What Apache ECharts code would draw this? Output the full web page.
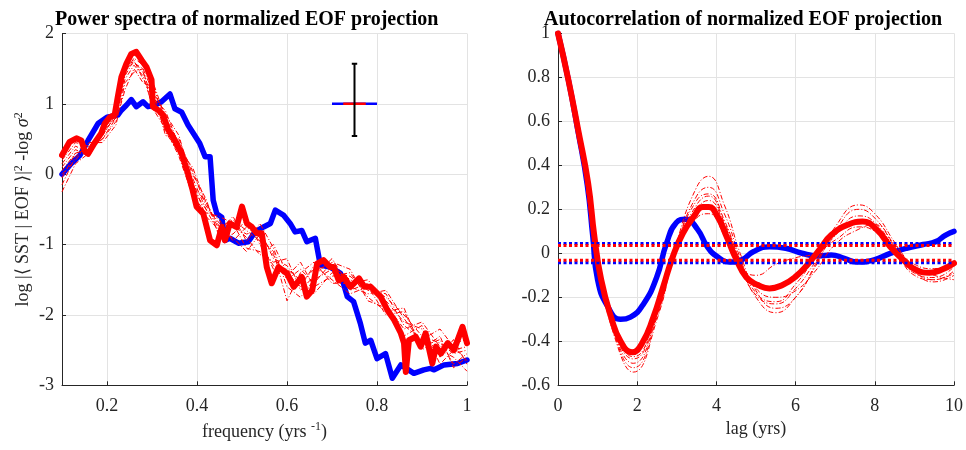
<!DOCTYPE html>
<html>
<head>
<meta charset="utf-8">
<script src="https://cdn.jsdelivr.net/npm/echarts@6/dist/echarts.min.js"></script>
<style>
  html, body { margin: 0; padding: 0; background: #fff; }
  #main { width: 966px; height: 450px; }
</style>
</head>
<body>
<div id="main"></div>
<script>
// power spectra (left panel)
const psFreqObs = [0.1,0.12,0.14,0.158,0.18,0.2,0.224,0.232,0.243,0.254,0.265,0.28,0.291,0.306,0.321,0.34,0.351,0.366,0.38,0.395,0.406,0.418,0.429,0.436,0.444,0.455,0.462,0.473,0.492,0.514,0.529,0.548,0.563,0.574,0.592,0.607,0.618,0.633,0.644,0.663,0.674,0.696,0.719,0.734,0.748,0.763,0.774,0.786,0.80,0.819,0.834,0.853,0.882,0.904,0.919,0.927,0.949,0.979,1.0];
const psObs = [0.0,0.15,0.27,0.48,0.72,0.81,0.84,0.91,0.98,1.06,0.96,1.03,0.96,0.98,1.03,1.14,0.93,0.88,0.70,0.55,0.44,0.25,0.25,-0.37,-0.56,-0.61,-0.94,-0.91,-0.98,-0.96,-0.82,-0.75,-0.70,-0.51,-0.58,-0.70,-0.82,-0.80,-0.96,-0.91,-1.29,-1.32,-1.41,-1.74,-1.81,-2.12,-2.40,-2.36,-2.62,-2.55,-2.90,-2.71,-2.83,-2.78,-2.76,-2.78,-2.71,-2.69,-2.64];

const psFreqMean = [0.1,0.117,0.132,0.143,0.15,0.158,0.172,0.187,0.195,0.206,0.217,0.224,0.232,0.243,0.254,0.265,0.277,0.288,0.299,0.302,0.314,0.325,0.336,0.351,0.366,0.38,0.39,0.399,0.414,0.429,0.444,0.455,0.462,0.473,0.488,0.50,0.511,0.522,0.533,0.544,0.555,0.566,0.581,0.60,0.615,0.633,0.644,0.656,0.667,0.681,0.696,0.704,0.715,0.726,0.741,0.76,0.772,0.786,0.808,0.823,0.838,0.853,0.86,0.864,0.871,0.886,0.897,0.908,0.923,0.931,0.942,0.957,0.971,0.99,1.0];
const psMean = [0.27,0.46,0.51,0.48,0.34,0.29,0.44,0.58,0.72,0.81,0.84,1.10,1.38,1.57,1.71,1.74,1.62,1.52,1.34,0.96,0.91,0.84,0.63,0.48,0.29,0.01,-0.22,-0.46,-0.56,-0.94,-1.01,-0.75,-0.94,-0.70,-0.75,-0.46,-0.70,-0.75,-0.84,-0.84,-1.32,-1.55,-1.32,-1.41,-1.60,-1.46,-1.74,-1.65,-1.27,-1.22,-1.32,-1.32,-1.51,-1.46,-1.60,-1.48,-1.60,-1.60,-1.74,-1.93,-2.07,-2.26,-2.40,-2.81,-2.36,-2.31,-2.45,-2.26,-2.69,-2.45,-2.55,-2.40,-2.50,-2.17,-2.40];

const psFreqEns = [0.1,0.13,0.16,0.19,0.22,0.24,0.26,0.28,0.3,0.33,0.36,0.39,0.42,0.45,0.48,0.51,0.54,0.57,0.6,0.63,0.66,0.7,0.74,0.78,0.82,0.86,0.9,0.94,0.97,1.0];
const psEns1 = [-0.25,0.15,0.3,0.55,0.85,1.45,1.65,1.55,1.35,0.8,0.45,0.05,-0.45,-0.7,-0.75,-0.85,-0.8,-1.2,-1.3,-1.55,-1.35,-1.3,-1.5,-1.6,-1.75,-2.0,-2.3,-2.4,-2.55,-2.5];
const psEns2 = [0.1,0.35,0.25,0.6,0.8,1.35,1.55,1.4,1.0,0.7,0.3,-0.1,-0.6,-0.8,-0.6,-0.95,-0.7,-1.05,-1.6,-1.75,-1.5,-1.35,-1.65,-1.55,-1.8,-2.1,-2.2,-2.6,-2.35,-2.7];
const psEns3 = [0.2,0.45,0.4,0.5,0.75,1.2,1.5,1.3,1.25,0.55,0.5,0.0,-0.35,-0.9,-0.85,-0.65,-1.0,-1.3,-1.45,-1.25,-1.6,-1.45,-1.4,-1.75,-1.95,-1.9,-2.5,-2.3,-2.75,-2.6];
const psEns4 = [-0.05,0.3,0.35,0.65,0.82,1.55,1.6,1.45,1.1,0.9,0.4,-0.2,-0.5,-0.65,-0.95,-0.75,-0.9,-1.1,-1.8,-1.4,-1.25,-1.55,-1.55,-1.5,-1.85,-2.2,-2.1,-2.45,-2.4,-2.35];
const psEns5 = [0.0,0.2,0.45,0.45,0.7,1.3,1.45,1.5,0.95,0.65,0.25,-0.3,-0.55,-0.6,-0.7,-1.05,-1.1,-1.25,-1.2,-1.65,-1.45,-1.2,-1.6,-1.7,-1.65,-2.05,-2.4,-2.5,-2.6,-2.8];
const psEns6 = [0.15,0.4,0.3,0.55,0.85,1.6,1.7,1.6,1.3,0.75,0.35,0.1,-0.4,-0.75,-0.65,-0.8,-0.95,-1.35,-1.35,-1.5,-1.7,-1.4,-1.45,-1.65,-1.7,-2.15,-2.35,-2.2,-2.45,-2.65];
const psEns7 = [-0.15,0.25,0.4,0.6,0.9,1.4,1.62,1.35,1.15,0.6,0.3,-0.05,-0.5,-0.85,-0.9,-1.1,-0.85,-1.15,-1.5,-1.35,-1.55,-1.25,-1.35,-1.8,-1.9,-2.3,-2.15,-2.7,-2.5,-2.45];
const psEns8 = [0.05,0.3,0.35,0.5,0.8,1.5,1.58,1.5,1.2,0.85,0.55,-0.15,-0.4,-0.8,-0.7,-0.9,-1.15,-1.0,-1.4,-1.6,-1.3,-1.5,-1.7,-1.6,-2.0,-1.95,-2.45,-2.35,-2.7,-2.55];

const psTicks = [0.2, 0.4, 0.6, 0.8, 1];

// error bar + spread marker
const errFreq = 0.75, errLow = 0.544, errHigh = 1.57, errCap = 0.006;
const spreadLevel = 1;
const spreadObs = [0.70, 0.80];
const spreadModel = [0.725, 0.775];

// autocorrelation (right panel)
const acLagObs = [0,0.26,0.5,0.74,0.88,1.0,1.25,1.58,1.83,2.16,2.49,2.74,2.99,3.23,3.52,3.77,4.02,4.35,4.64,4.93,5.34,5.75,6.16,6.57,6.9,7.23,7.56,7.98,8.39,8.8,9.22,9.54,9.79,10];
const acObs = [1.0,0.79,0.56,0.31,0.075,-0.12,-0.24,-0.30,-0.29,-0.23,-0.11,0.045,0.14,0.155,0.11,0.03,-0.015,-0.04,-0.03,0.007,0.03,0.023,0.0,-0.012,-0.008,-0.023,-0.04,-0.03,0.0,0.023,0.04,0.053,0.083,0.10];

const acLagMean = [0,0.26,0.51,0.76,0.92,1.09,1.34,1.58,1.87,2.12,2.41,2.66,2.90,3.15,3.44,3.65,3.81,4.02,4.26,4.51,4.76,5.05,5.34,5.67,6.0,6.33,6.62,6.9,7.32,7.69,8.06,8.39,8.72,9.05,9.38,9.67,10];
const acMean = [1.0,0.79,0.56,0.32,0.075,-0.12,-0.29,-0.40,-0.45,-0.41,-0.29,-0.15,-0.015,0.09,0.17,0.21,0.21,0.17,0.075,-0.03,-0.11,-0.144,-0.16,-0.144,-0.106,-0.045,0.02,0.083,0.13,0.144,0.106,0.03,-0.03,-0.076,-0.088,-0.076,-0.045];

const acLagEns = [0,0.5,1,1.5,1.9,2.5,3,3.5,3.8,4.2,4.6,5,5.5,6,6.5,7,7.6,8,8.5,9,9.5,10];
const acEns1 = [1,0.56,-0.04,-0.42,-0.54,-0.30,0.05,0.30,0.35,0.22,0.00,-0.17,-0.25,-0.20,-0.05,0.12,0.22,0.18,0.05,-0.08,-0.13,-0.10];
const acEns2 = [1,0.57,-0.03,-0.40,-0.50,-0.28,0.04,0.24,0.27,0.15,-0.04,-0.20,-0.27,-0.20,-0.06,0.10,0.20,0.16,0.03,-0.10,-0.12,-0.08];
const acEns3 = [1,0.57,-0.02,-0.38,-0.47,-0.26,0.03,0.20,0.24,0.13,-0.05,-0.19,-0.23,-0.16,-0.04,0.08,0.17,0.14,0.02,-0.09,-0.11,-0.06];
const acEns4 = [1,0.58,-0.01,-0.36,-0.44,-0.24,0.02,0.16,0.18,0.08,-0.06,-0.10,-0.05,-0.02,0.00,0.06,0.12,0.10,0.02,-0.05,-0.07,-0.04];
const acEns5 = [1,0.57,-0.03,-0.41,-0.52,-0.29,0.04,0.26,0.30,0.18,-0.02,-0.18,-0.22,-0.14,-0.02,0.09,0.14,0.12,0.03,-0.08,-0.12,-0.09];
const acEns6 = [1,0.57,-0.02,-0.39,-0.48,-0.27,0.03,0.22,0.26,0.14,-0.03,-0.16,-0.20,-0.17,-0.08,0.04,0.11,0.13,0.04,-0.06,-0.10,-0.12];

// significance levels (dotted)
const sigObs = [0.045, -0.043];
const sigModel = [0.035, -0.032];
const lagRange = [0, 10];

const FONT = 'Liberation Serif';
const INK = '#262626';
const GRIDC = '#e3e3e3';

function zip(xs, ys) {
  return xs.map((x, i) => [x, ys[i]]);
}

function thin(xi, yi, xs, ys, smooth) {
  return {
    type: 'line', xAxisIndex: xi, yAxisIndex: yi, data: zip(xs, ys),
    showSymbol: false, smooth: smooth, silent: true,
    lineStyle: { color: '#ff0000', width: 1, type: [5, 2, 1, 2] }
  };
}

function thick(xi, yi, xs, ys, color, w, smooth) {
  return {
    type: 'line', xAxisIndex: xi, yAxisIndex: yi, data: zip(xs, ys),
    showSymbol: false, smooth: smooth, silent: true,
    lineStyle: { color: color, width: w, cap: 'round', join: 'round' }
  };
}

function seg(xi, yi, pts, color, w, dash) {
  return {
    type: 'line', xAxisIndex: xi, yAxisIndex: yi, data: pts,
    showSymbol: false, silent: true,
    lineStyle: { color: color, width: w, type: dash || 'solid' }
  };
}

const labelStyle = { fontFamily: FONT, fontSize: 18, color: INK };
const nameStyle = {
  fontFamily: FONT, fontSize: 18, color: INK,
  rich: {
    sup: { fontFamily: FONT, fontSize: 12, color: INK, padding: [0, 0, 9, 0] },
    it: { fontFamily: FONT, fontSize: 18, color: INK, fontStyle: 'italic' }
  }
};

let chart = echarts.init(document.getElementById('main'));

let series = [];
series.push(thick(0, 0, psFreqObs, psObs, '#0000ff', 5.5, false));
[psEns1, psEns2, psEns3, psEns4, psEns5, psEns6, psEns7, psEns8].forEach(e => series.push(thin(0, 0, psFreqEns, e, false)));
series.push(thick(0, 0, psFreqMean, psMean, '#ff0000', 6, false));
series.push(seg(0, 0, [[spreadObs[0], spreadLevel], [spreadObs[1], spreadLevel]], '#0000ff', 2.5));
series.push(seg(0, 0, [[spreadModel[0], spreadLevel], [spreadModel[1], spreadLevel]], '#ff0000', 2.5));
series.push(seg(0, 0, [[errFreq, errLow], [errFreq, errHigh]], '#000000', 2));
series.push(seg(0, 0, [[errFreq - errCap, errLow], [errFreq + errCap, errLow]], '#000000', 2));
series.push(seg(0, 0, [[errFreq - errCap, errHigh], [errFreq + errCap, errHigh]], '#000000', 2));

series.push(thick(1, 1, acLagObs, acObs, '#0000ff', 5.5, true));
[acEns1, acEns2, acEns3, acEns4, acEns5, acEns6].forEach(e => series.push(thin(1, 1, acLagEns, e, true)));
series.push(thick(1, 1, acLagMean, acMean, '#ff0000', 6, true));
sigObs.forEach(v => series.push(seg(1, 1, [[lagRange[0], v], [lagRange[1], v]], '#0000ff', 3, [3, 2.5])));
sigModel.forEach(v => series.push(seg(1, 1, [[lagRange[0], v], [lagRange[1], v]], '#ff0000', 3, [3, 2.5])));

chart.setOption({
  animation: false,
  backgroundColor: '#fff',
  title: [
    { text: 'Power spectra of normalized EOF projection', left: 50, top: 5,
      textStyle: { fontFamily: FONT, fontSize: 20, fontWeight: 'bold', color: '#000' } },
    { text: 'Autocorrelation of normalized EOF projection', left: 539, top: 5,
      textStyle: { fontFamily: FONT, fontSize: 20, fontWeight: 'bold', color: '#000' } }
  ],
  grid: [
    { left: 62, right: 499, top: 33.5, bottom: 64.7 },
    { left: 558, right: 4, top: 33.3, bottom: 64.7 }
  ],
  xAxis: [
    {
      type: 'value', gridIndex: 0, min: 0.1, max: 1,
      name: 'frequency (yrs {sup|-1})', nameLocation: 'middle', nameGap: 36,
      nameTextStyle: nameStyle,
      axisLine: { onZero: false, lineStyle: { color: INK, width: 1 } },
      axisTick: { inside: true, length: 4, customValues: psTicks, lineStyle: { color: INK } },
      axisLabel: { customValues: psTicks, margin: 12, ...labelStyle },
      splitLine: { show: true, lineStyle: { color: GRIDC } }
    },
    {
      type: 'value', gridIndex: 1, min: 0, max: 10, interval: 2,
      name: 'lag (yrs)', nameLocation: 'middle', nameGap: 34,
      nameTextStyle: nameStyle,
      axisLine: { onZero: false, lineStyle: { color: INK, width: 1 } },
      axisTick: { inside: true, length: 4, lineStyle: { color: INK } },
      axisLabel: { margin: 12, ...labelStyle },
      splitLine: { show: true, lineStyle: { color: GRIDC } }
    }
  ],
  yAxis: [
    {
      type: 'value', gridIndex: 0, min: -3, max: 2, interval: 1,
      name: 'log |\u27E8 SST | EOF \u27E9|{sup|2} -log {it|\u03C3}{sup|2}',
      nameLocation: 'middle', nameGap: 28, nameRotate: 90,
      nameTextStyle: nameStyle,
      axisLine: { show: true, onZero: false, lineStyle: { color: INK, width: 1 } },
      axisTick: { show: true, inside: true, length: 4, lineStyle: { color: INK } },
      axisLabel: { margin: 8, ...labelStyle },
      splitLine: { show: true, lineStyle: { color: GRIDC } }
    },
    {
      type: 'value', gridIndex: 1, min: -0.6, max: 1, interval: 0.2,
      axisLine: { show: true, onZero: false, lineStyle: { color: INK, width: 1 } },
      axisTick: { show: true, inside: true, length: 4, lineStyle: { color: INK } },
      axisLabel: { margin: 8, ...labelStyle },
      splitLine: { show: true, lineStyle: { color: GRIDC } }
    }
  ],
  series: series
});
</script>
</body>
</html>
